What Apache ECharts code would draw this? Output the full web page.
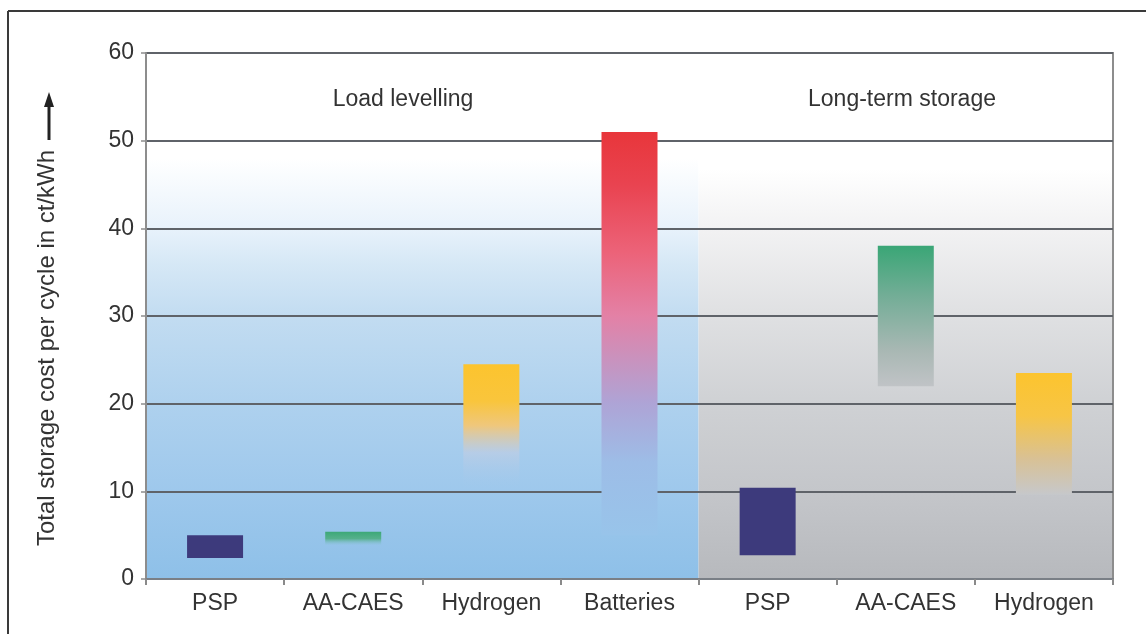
<!DOCTYPE html>
<html>
<head>
<meta charset="utf-8">
<script src="https://cdn.jsdelivr.net/npm/echarts@6/dist/echarts.min.js"></script>
<style>html,body{margin:0;padding:0;background:#fff}#c{width:1146px;height:634px}</style>
</head>
<body>
<div id="c"></div>
<script>
// ---- data ----
var categories = ['PSP', 'AA-CAES', 'Hydrogen', 'Batteries', 'PSP', 'AA-CAES', 'Hydrogen'];
var groupLabels = ['Load levelling', 'Long-term storage'];
var groupRanges = [[0, 3], [4, 6]];           // category index span of each group
var lowValues  = [2.4, 3.8, 10.5, 5.0, 2.7, 22.0, 9.6];
var highValues = [5.0, 5.4, 24.5, 51.0, 10.4, 38.0, 23.5];
var yTicks = [0, 10, 20, 30, 40, 50, 60];
var yTitle = 'Total storage cost per cycle in ct/kWh';

// ---- styles ----
function lg(stops) {
  return { type: 'linear', x: 0, y: 0, x2: 0, y2: 1,
    colorStops: stops.map(function (s) { return { offset: s[0], color: s[1] }; }) };
}
var barFills = [
  '#3d3a7c',
  lg([[0, '#3ca877'], [0.5, '#55b08c'], [1, 'rgba(150,198,234,0.2)']]),
  lg([[0, '#fcc42e'], [0.3, '#f9c53c'], [0.5, '#efc77c'], [0.72, 'rgba(190,205,228,0.7)'], [1, 'rgba(160,200,236,0.1)']]),
  lg([[0, '#e8363b'], [0.13, '#e94350'], [0.3, '#ec6379'], [0.457, '#e381a6'], [0.674, '#aea4d6'], [0.82, '#9dbde7'], [1, '#98c4ea']]),
  '#3d3a7c',
  lg([[0, '#3aa676'], [0.35, '#72ad96'], [0.75, '#a9b8b4'], [1, '#c0c3c6']]),
  lg([[0, '#fcc42e'], [0.35, '#f7c545'], [0.7, '#d9c194'], [1, '#c6c8cb']])
];
var groupFills = [
  lg([[0, '#ffffff'], [0.2, '#ffffff'], [0.333, '#e8f2fb'], [0.4, '#d6e8f6'], [0.5, '#c2dcf1'], [0.667, '#aed1ee'], [0.833, '#9ec8ec'], [1, '#8ec0e8']]),
  lg([[0, '#ffffff'], [0.22, '#ffffff'], [0.333, '#f2f2f3'], [0.5, '#dfe0e2'], [0.667, '#cfd1d4'], [0.833, '#c4c6ca'], [1, '#b7b9bd']])
];

var font = "'Liberation Sans', Arial, sans-serif";
var yMin = yTicks[0], yMax = yTicks[yTicks.length - 1];
var chart = echarts.init(document.getElementById('c'));
chart.setOption({
  animation: false,
  grid: { left: 146, right: 33, top: 53, bottom: 55, show: true, borderColor: '#8d8d8d', borderWidth: 2, backgroundColor: 'transparent' },
  xAxis: {
    type: 'category',
    data: categories,
    axisLine: { lineStyle: { color: '#7a7f86', width: 2 } },
    axisTick: { show: true, interval: 0, length: 6, lineStyle: { color: '#8a8a8a', width: 2 } },
    axisLabel: { interval: 0, margin: 13, fontSize: 23, color: '#333', fontFamily: font }
  },
  yAxis: {
    type: 'value', min: yMin, max: yMax, interval: 10,
    axisLine: { show: true, lineStyle: { color: '#8d8d8d', width: 2 } },
    axisTick: { show: true, length: 5, lineStyle: { color: '#8d8d8d', width: 1.5 } },
    axisLabel: { margin: 12, fontSize: 23, color: '#333', fontFamily: font },
    splitLine: { show: true, lineStyle: { color: '#5f6369', width: 1.8 } }
  },
  series: [
    { type: 'custom', z: -5, silent: true,
      data: groupRanges.map(function (r, i) { return [r[0], r[1], i]; }),
      encode: { x: [0, 1] },
      renderItem: function (params, api) {
        var bw = api.size([1, 0])[0];
        var p0 = api.coord([api.value(0), yMax]);
        var p1 = api.coord([api.value(1), yMin]);
        return { type: 'rect',
          shape: { x: p0[0] - bw / 2, y: p0[1], width: p1[0] - p0[0] + bw, height: p1[1] - p0[1] },
          style: { fill: groupFills[api.value(2)] } };
      }
    },
    { type: 'bar', stack: 's', barWidth: 56, silent: true,
      itemStyle: { color: 'transparent' }, data: lowValues },
    { type: 'bar', stack: 's', barWidth: 56,
      data: highValues.map(function (h, i) {
        return { value: +(h - lowValues[i]).toFixed(2), itemStyle: { color: barFills[i] } };
      }) }
  ],
  graphic: [
    { type: 'line', z: 100, shape: { x1: 8, y1: 11, x2: 1146, y2: 11 }, style: { stroke: '#3a3a3a', lineWidth: 2 } },
    { type: 'line', z: 100, shape: { x1: 8, y1: 11, x2: 8, y2: 634 }, style: { stroke: '#3a3a3a', lineWidth: 2 } },
    { type: 'text', z: 100, x: 47, y: 348, rotation: Math.PI / 2,
      style: { text: yTitle, font: '24px ' + font, fill: '#333', textAlign: 'center', textVerticalAlign: 'middle' } },
    { type: 'line', z: 100, shape: { x1: 49, y1: 140, x2: 49, y2: 104 }, style: { stroke: '#222', lineWidth: 3 } },
    { type: 'polygon', z: 100, shape: { points: [[49, 92], [44, 107], [54, 107]] }, style: { fill: '#222' } },
    { type: 'text', z: 100, x: 403, y: 100, style: { text: groupLabels[0], font: '23px ' + font, fill: '#333', textAlign: 'center', textVerticalAlign: 'middle' } },
    { type: 'text', z: 100, x: 902, y: 100, style: { text: groupLabels[1], font: '23px ' + font, fill: '#333', textAlign: 'center', textVerticalAlign: 'middle' } }
  ]
});
</script>
</body>
</html>
